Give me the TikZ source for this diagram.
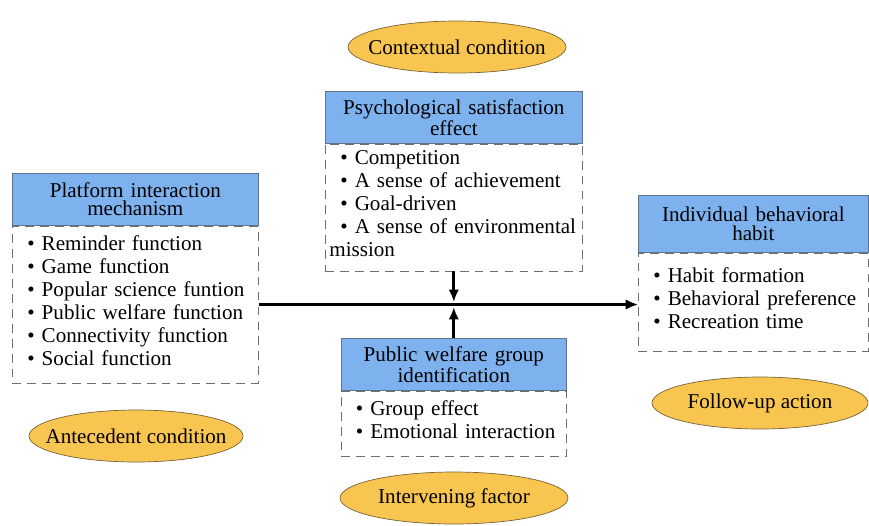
\documentclass[tikz,border=0pt]{standalone}
\usepackage{fontspec}
\setmainfont{Liberation Serif}
\usetikzlibrary{positioning,shapes.geometric,arrows.meta}

\definecolor{headblue}{RGB}{126,178,238}
\definecolor{headline}{RGB}{95,115,140}
\definecolor{condfill}{RGB}{248,197,80}
\definecolor{condline}{RGB}{120,100,55}
\definecolor{dashgray}{RGB}{110,110,110}

% one bullet line, never broken
\newcommand{\bpoint}[1]{\mbox{\textbullet\ #1}}

\begin{document}
\begin{tikzpicture}[x=0.02cm, y=-0.02cm, >={Latex[length=7pt,width=6pt]},
    every node/.style={font=\fontsize{12}{13}\selectfont},
    head/.style={draw=headline, fill=headblue, thin, align=center, anchor=north west,
        inner xsep=0pt, font=\fontsize{12}{10.5}\selectfont},
    body/.style={draw=dashgray, dash pattern=on 5pt off 3.5pt, thin, align=left,
        inner xsep=0.3cm, below=0pt of #1,
        execute at end node={\rule[-4.5pt]{0pt}{0pt}}},
    cond/.style={ellipse, draw=condline, fill=condfill, thin, inner sep=0pt}]
    \useasboundingbox (0,0) rectangle (869,525);

    % Platform interaction mechanism
    \node[head, text width=4.92cm, minimum height=1.04cm] (platHead) at (12,173)
        {Platform interaction\\mechanism};
    \node[body=platHead, text width=4.32cm, minimum height=3.14cm] (platBody)
        {\bpoint{Reminder function}\\
         \bpoint{Game function}\\
         \bpoint{Popular science funtion}\\
         \bpoint{Public welfare function}\\
         \bpoint{Connectivity function}\\
         \bpoint{Social function}};

    % Psychological satisfaction effect
    \node[head, text width=5.14cm, minimum height=1.04cm] (psychHead) at (325,91)
        {Psychological satisfaction\\effect};
    \node[body=psychHead, text width=4.54cm, minimum height=2.54cm] (psychBody)
        {\bpoint{Competition}\\
         \bpoint{A sense of achievement}\\
         \bpoint{Goal-driven}\\
         \bpoint{A sense of environmental}\\
         \hspace*{-0.22cm}mission};

    % Individual behavioral habit
    \node[head, text width=4.6cm, minimum height=1.14cm] (habitHead) at (638,195)
        {Individual behavioral\\habit};
    \node[body=habitHead, text width=4.0cm, minimum height=1.96cm] (habitBody)
        {\bpoint{Habit formation}\\
         \bpoint{Behavioral preference}\\
         \bpoint{Recreation time}};

    % Public welfare group identification
    \node[head, text width=4.52cm, minimum height=1.04cm] (welfHead) at (340.5,338)
        {Public welfare group\\identification};
    \node[body=welfHead, text width=3.92cm, minimum height=1.3cm] (welfBody)
        {\bpoint{Group effect}\\
         \bpoint{Emotional interaction}};

    % Conditions
    \foreach \nm/\x/\y/\w/\txt in {ctx/457/47/4.36/Contextual condition,
        ante/136/436/4.28/Antecedent condition,
        follow/760/403/4.32/Follow-up action,
        interv/454/498/4.56/Intervening factor} {
        \node[cond, minimum width=\w cm, minimum height=1.04cm] (\nm) at (\x,\y)
            {\makebox[0pt]{\txt}};
    }

    % Arrows
    \coordinate (meet) at (psychBody.south |- platBody.east);
    \draw[->, line width=1.6pt] (platBody.east) -- (platBody.east -| habitBody.west);
    \draw[->, line width=1.6pt] (psychBody.south) -- ([yshift=1.5pt]meet);
    \draw[->, line width=1.6pt] (psychBody.south |- welfHead.north) -- ([yshift=-1.5pt]meet);
\end{tikzpicture}
\end{document}
